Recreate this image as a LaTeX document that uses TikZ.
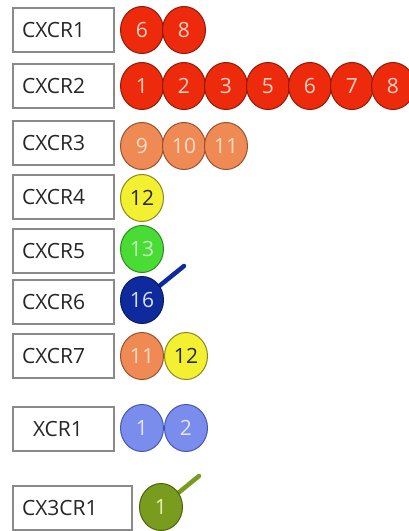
\documentclass[tikz,border=0pt]{standalone}
\usepackage{fontspec}
\setmainfont{Open Sans}
\usetikzlibrary{shapes.geometric}
\definecolor{redF}{HTML}{EE2A0C}
\definecolor{redD}{HTML}{8E1A08}
\definecolor{redT}{HTML}{FFD2C2}
\definecolor{salF}{HTML}{F08A55}
\definecolor{salD}{HTML}{9A5030}
\definecolor{salT}{HTML}{FFDCC6}
\definecolor{yelF}{HTML}{F3F032}
\definecolor{yelD}{HTML}{8A8620}
\definecolor{grnF}{HTML}{48DC34}
\definecolor{grnD}{HTML}{2E8A20}
\definecolor{grnT}{HTML}{C8F5C0}
\definecolor{bluF}{HTML}{0E2A9C}
\definecolor{bluD}{HTML}{071A60}
\definecolor{bluT}{HTML}{D8E0FF}
\definecolor{perF}{HTML}{7A8CEC}
\definecolor{perD}{HTML}{4558B0}
\definecolor{perT}{HTML}{E2E6FF}
\definecolor{olvF}{HTML}{7A9C1E}
\definecolor{olvD}{HTML}{4A6210}
\definecolor{olvT}{HTML}{E8F0B0}
\definecolor{boxD}{HTML}{8A8A8A}
\tikzset{
  rbox/.style={draw=boxD, line width=1.3pt, minimum height=44pt, minimum width=101pt,
    text width=83pt, align=left, inner xsep=9pt, inner ysep=0pt, font=\fontsize{21}{24}\selectfont, text=black!85},
  lig/.style={ellipse, minimum width=43pt, minimum height=47pt, inner sep=0pt,
    line width=1pt, font=\fontsize{21}{24}\selectfont},
  lred/.style={lig, draw=redD, fill=redF, text=redT},
  lsal/.style={lig, draw=salD, fill=salF, text=salT},
  lyel/.style={lig, draw=yelD, fill=yelF, text=black!85},
  lgrn/.style={lig, draw=grnD, fill=grnF, text=grnT},
  lblu/.style={lig, draw=bluD, fill=bluF, text=bluT},
  lper/.style={lig, draw=perD, fill=perF, text=perT},
  lolv/.style={lig, draw=olvD, fill=olvF, text=olvT},
  stick/.style={line width=4.5pt, line cap=round}
}
\begin{document}
\begin{tikzpicture}[x=1pt,y=-1pt]
\fill[white] (0,0) rectangle (408,531);
\useasboundingbox (0,0) rectangle (408,531);
% receptor boxes
\node[rbox] (r1) at (63.5,30) {CXCR1};
\node[rbox] (r2) at (63.5,86) {CXCR2};
\node[rbox] (r3) at (63.5,143) {CXCR3};
\node[rbox] (r4) at (63.5,197) {CXCR4};
\node[rbox] (r5) at (63.5,251) {CXCR5};
\node[rbox] (r6) at (63.5,302) {CXCR6};
\node[rbox] (r7) at (63.5,356) {CXCR7};
\node[rbox] (r8) at (63.5,429) {\hspace{11pt}XCR1};
\node[rbox, minimum width=119pt, text width=101pt] (r9) at (72.5,508) {CX3CR1};
% CXCR1
\node[lred] (a1) at (142,30) {6};
\node[lred] (a2) at (184,30) {8};
% CXCR2
\node[lred] (b1) at (142,86) {1};
\node[lred] (b2) at (184,86) {2};
\node[lred] (b3) at (226,86) {3};
\node[lred] (b4) at (268,86) {5};
\node[lred] (b5) at (310,86) {6};
\node[lred] (b6) at (352,86) {7};
\node[lred] (b7) at (393,86) {8};
% CXCR3
\node[lsal] (c1) at (142,146) {9};
\node[lsal] (c2) at (184,146) {10};
\node[lsal] (c3) at (226,146) {11};
% CXCR4
\node[lyel] (d1) at (142,198) {12};
% CXCR5
\node[lgrn] (e1) at (142,249) {13};
% CXCR6
\coordinate (e2t) at (184,266);
\draw[stick, bluF] (142,300) -- (e2t);
\node[lblu] (e2) at (142,300) {16};
% CXCR7
\node[lsal] (f1) at (142,356) {11};
\node[lyel] (f2) at (186,356) {12};
% XCR1
\node[lper] (g1) at (142,428) {1};
\node[lper] (g2) at (186,428) {2};
% CX3CR1
\coordinate (h1t) at (199,476);
\draw[stick, olvF] (161,507) -- (h1t);
\node[lolv] (h1) at (161,507) {1};
\end{tikzpicture}
\end{document}
